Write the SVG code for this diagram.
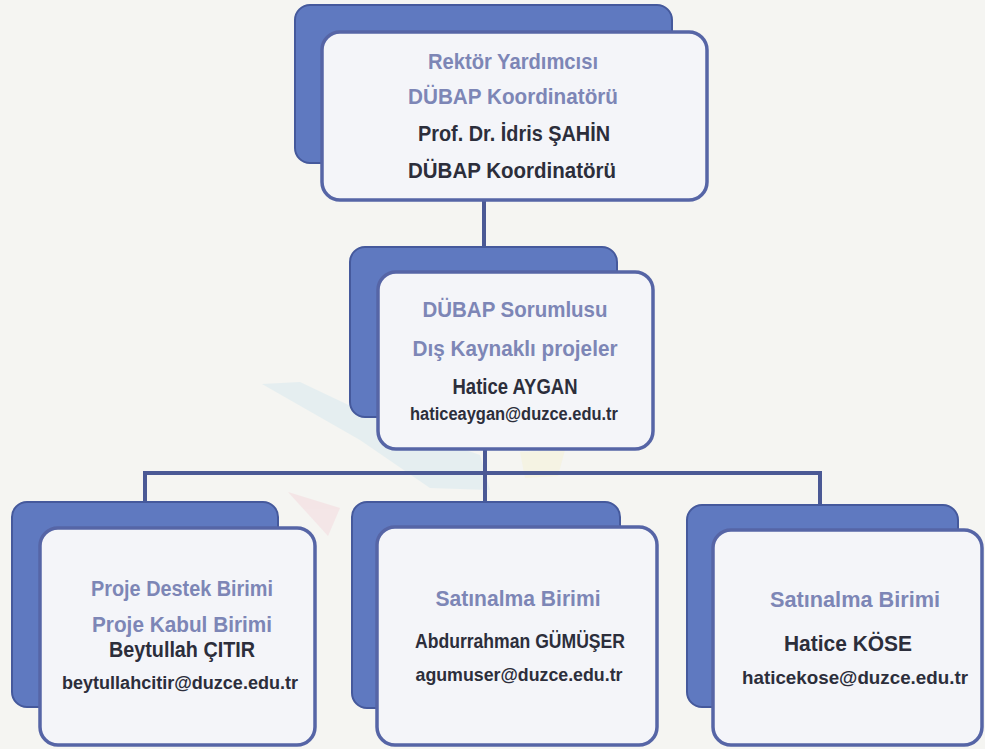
<svg xmlns="http://www.w3.org/2000/svg" width="985" height="749" viewBox="0 0 985 749">
<style>
.bg{fill:#f5f5f2}
.back{fill:#5f79c0;stroke:#45599c;stroke-width:2}
.front{fill:#f4f5f9;stroke:#5665a6;stroke-width:3.5}
.conn{stroke:#4b5995;stroke-width:4;fill:none}
text{font-family:"Liberation Sans",Arial,sans-serif;font-weight:bold;text-anchor:middle}
.lbl{fill:#7d86b6;font-size:22px}
.nm{fill:#2c2e3b;font-size:22px}
.em{fill:#2c2e3b;font-size:18px}
</style>
<rect class="bg" x="0" y="0" width="985" height="749"/>
<g id="watermark" opacity="0.4">
<polygon points="262,384 300,382 380,420 480,455 490,490 430,488 360,440" fill="#cfe6ef"/>
<polygon points="288,492 340,508 328,536" fill="#f3cfd6"/>
<polygon points="520,452 565,450 558,476 525,478" fill="#f4efcc"/>
</g>
<g id="connectors">
<line class="conn" x1="484" y1="198" x2="484" y2="249"/>
<line class="conn" x1="485" y1="450" x2="485" y2="504"/>
<polyline class="conn" points="145,503 145,473 820,473 820,506"/>
</g>
<g id="node-top">
<rect class="back" x="295" y="5" width="377" height="158" rx="15"/>
<rect class="front" x="322" y="32" width="385" height="168" rx="18"/>
<text class="lbl" x="513" y="69" textLength="170" lengthAdjust="spacingAndGlyphs">Rektör Yardımcısı</text>
<text class="lbl" x="513" y="104" textLength="210" lengthAdjust="spacingAndGlyphs">DÜBAP Koordinatörü</text>
<text class="nm" x="514" y="141" textLength="192" lengthAdjust="spacingAndGlyphs">Prof. Dr. İdris ŞAHİN</text>
<text class="nm" x="512" y="178" textLength="208" lengthAdjust="spacingAndGlyphs">DÜBAP Koordinatörü</text>
</g>
<g id="node-middle">
<rect class="back" x="350" y="247" width="267" height="170" rx="15"/>
<rect class="front" x="378" y="272" width="275" height="177" rx="18"/>
<text class="lbl" x="515" y="317" textLength="185" lengthAdjust="spacingAndGlyphs">DÜBAP Sorumlusu</text>
<text class="lbl" x="515" y="356" textLength="205" lengthAdjust="spacingAndGlyphs">Dış Kaynaklı projeler</text>
<text class="nm" x="515" y="394" textLength="125" lengthAdjust="spacingAndGlyphs">Hatice AYGAN</text>
<text class="em" x="514" y="420" textLength="208" lengthAdjust="spacingAndGlyphs">haticeaygan@duzce.edu.tr</text>
</g>
<g id="node-left">
<rect class="back" x="12" y="502" width="266" height="205" rx="15"/>
<rect class="front" x="40" y="528" width="275" height="217" rx="18"/>
<text class="lbl" x="182" y="596" textLength="182" lengthAdjust="spacingAndGlyphs">Proje Destek Birimi</text>
<text class="lbl" x="182" y="632" textLength="180" lengthAdjust="spacingAndGlyphs">Proje Kabul Birimi</text>
<text class="nm" x="182" y="657" textLength="146" lengthAdjust="spacingAndGlyphs">Beytullah ÇITIR</text>
<text class="em" x="180" y="689" textLength="236" lengthAdjust="spacingAndGlyphs">beytullahcitir@duzce.edu.tr</text>
</g>
<g id="node-center">
<rect class="back" x="352" y="502" width="268" height="206" rx="15"/>
<rect class="front" x="377" y="527" width="280" height="218" rx="18"/>
<text class="lbl" x="518" y="606" textLength="165" lengthAdjust="spacingAndGlyphs">Satınalma Birimi</text>
<text class="nm" x="520" y="648" textLength="210" lengthAdjust="spacingAndGlyphs" style="font-size:20px">Abdurrahman GÜMÜŞER</text>
<text class="em" x="519" y="681" textLength="207" lengthAdjust="spacingAndGlyphs" style="font-size:19px">agumuser@duzce.edu.tr</text>
</g>
<g id="node-right">
<rect class="back" x="687" y="505" width="271" height="202" rx="15"/>
<rect class="front" x="713" y="530" width="269" height="215" rx="18"/>
<text class="lbl" x="855" y="607" textLength="170" lengthAdjust="spacingAndGlyphs">Satınalma Birimi</text>
<text class="nm" x="848" y="651" textLength="128" lengthAdjust="spacingAndGlyphs">Hatice KÖSE</text>
<text class="em" x="855" y="684" textLength="226" lengthAdjust="spacingAndGlyphs" style="font-size:19px">haticekose@duzce.edu.tr</text>
</g>
</svg>
